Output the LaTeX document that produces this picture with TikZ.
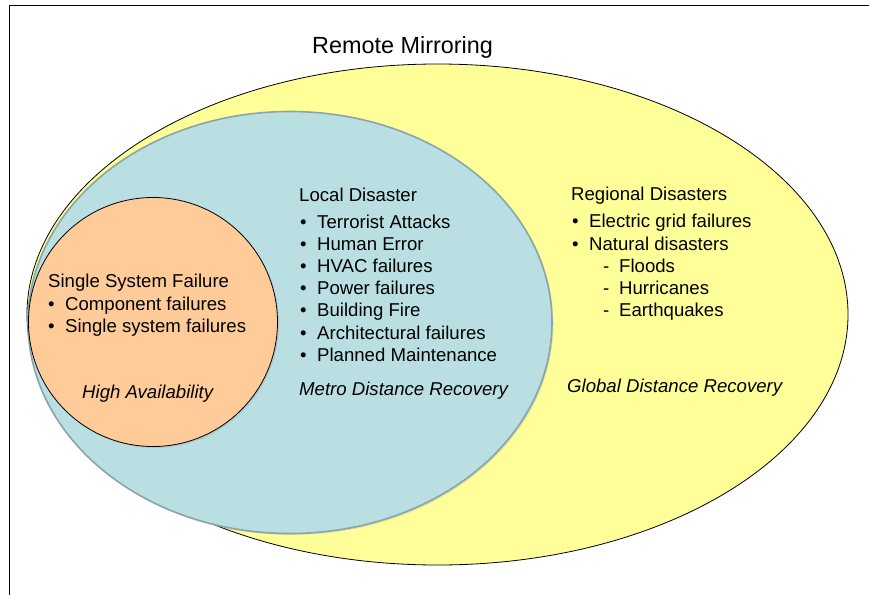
\documentclass[tikz,border=0pt]{standalone}
\usepackage{fontspec}
\setmainfont{Liberation Sans}
\definecolor{globalfill}{HTML}{FFFF99}
\definecolor{metrofill}{HTML}{B9DFE2}
\definecolor{metroedge}{HTML}{8BA4AC}
\definecolor{localfill}{HTML}{FFCC99}
\newcommand{\bul}{\makebox[17pt][l]{•}}
\newcommand{\sdash}{\makebox[16pt][l]{-}}
\begin{document}
\begin{tikzpicture}[x=1pt,y=-1pt,
  txt/.style={anchor=base west,inner sep=0pt,font=\fontsize{18.6}{22}\selectfont},
  ttl/.style={anchor=base west,inner sep=0pt,font=\fontsize{23.4}{28}\selectfont},
  shade/.style={fill=black!40,opacity=0.3}]
\useasboundingbox (0,0) rectangle (869,594);
% frame
\draw[line width=1pt] (9.5,600) -- (9.5,6) -- (875,6);
% nested regions
\draw[fill=globalfill,line width=0.8pt] (437.5,314.5) ellipse [x radius=410.5,y radius=250.5];
\fill[shade] (291.5,324) ellipse [x radius=262,y radius=211];
\draw[fill=metrofill,draw=metroedge,line width=1.6pt] (290,322.5) ellipse [x radius=262,y radius=211];
\fill[shade] (154.5,323.5) circle [radius=124.5];
\draw[fill=localfill,line width=0.8pt] (153,322) circle [radius=124.5];
% title
\node[ttl] (title) at (312,53.3) {Remote Mirroring};
% local column
\node[txt] (ssf) at (48,287.3) {Single System Failure};
\node[txt] (ssf1) at (48,310.7) {\bul Component failures};
\node[txt] (ssf2) at (48,332.7) {\bul Single system failures};
\node[txt] (ha) at (82,398.3) {\itshape High Availability};
% metro column
\node[txt] (ld) at (299,201) {Local Disaster};
\node[txt] (ld1) at (300,228) {\bul Terrorist Attacks};
\node[txt] (ld2) at (300,250.2) {\bul Human Error};
\node[txt] (ld3) at (300,272.4) {\bul HVAC failures};
\node[txt] (ld4) at (300,294.6) {\bul Power failures};
\node[txt] (ld5) at (300,316.8) {\bul Building Fire};
\node[txt] (ld6) at (300,339) {\bul Architectural failures};
\node[txt] (ld7) at (300,361.2) {\bul Planned Maintenance};
\node[txt] (mdr) at (299,395) {\itshape Metro Distance Recovery};
% global column
\node[txt] (rd) at (571,200.7) {Regional Disasters};
\node[txt] (rd1) at (572,227.7) {\bul Electric grid failures};
\node[txt] (rd2) at (572,250) {\bul Natural disasters};
\node[txt] (rd3) at (603,272.5) {\sdash Floods};
\node[txt] (rd4) at (603,294.5) {\sdash Hurricanes};
\node[txt] (rd5) at (603,316.7) {\sdash Earthquakes};
\node[txt] (gdr) at (567,392.7) {\itshape Global Distance Recovery};
\end{tikzpicture}
\end{document}
